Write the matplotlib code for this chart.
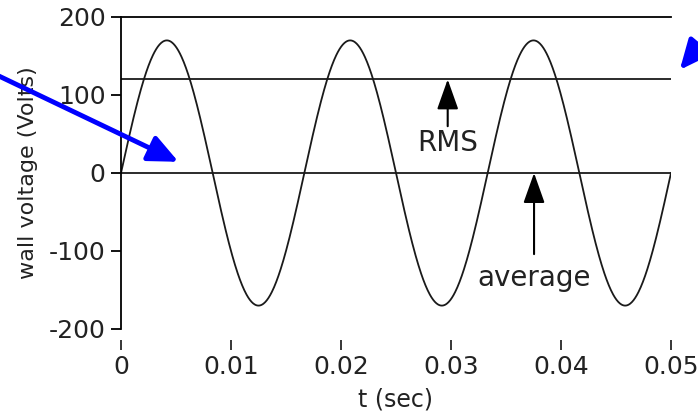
import numpy as np
import matplotlib
matplotlib.use('Agg')
import matplotlib.pyplot as plt

# values
peak_volts = 170          # peak of the wall voltage
freq_hz = 60              # 3 cycles in 0.05 s
t_end = 0.05
rms_volts = 120
avg_volts = 0
top_volts = 200

x_ticks = [0, 0.01, 0.02, 0.03, 0.04, 0.05]
x_labels = ['0', '0.01', '0.02', '0.03', '0.04', '0.05']
y_ticks = [200, 100, 0, -100, -200]
y_labels = ['200', '100', '0', '-100', '-200']

t = np.linspace(0, t_end, 1000)
v = peak_volts * np.sin(2 * np.pi * freq_hz * t)

plt.rcParams['font.family'] = ['DejaVu Sans']
fig = plt.figure(figsize=(6.98, 4.16), dpi=100)
ax = fig.add_axes([121/698, 1 - 329/416, 550/698, 312/416])

ink = '#1a1a1a'
ax.plot(t, v, color=ink, lw=1.3)
ax.plot([0, t_end], [rms_volts, rms_volts], color=ink, lw=1.3)
ax.plot([0, t_end], [avg_volts, avg_volts], color=ink, lw=1.3)

ax.set_xlim(0, t_end)
ax.set_ylim(-200, top_volts)

ax.spines['right'].set_visible(False)
ax.spines['top'].set_linewidth(1.3)
ax.spines['left'].set_linewidth(1.3)
ax.spines['bottom'].set_position(('outward', 8))
ax.spines['bottom'].set_visible(False)

ax.set_xticks(x_ticks)
ax.set_xticklabels(x_labels, fontsize=18, color='#222222')
ax.set_yticks(y_ticks)
ax.set_yticklabels(y_labels, fontsize=18, color='#222222')
ax.tick_params(axis='x', direction='out', length=7, width=1.1, pad=4)
ax.tick_params(axis='y', direction='out', length=7, width=1.3, pad=4)
ax.set_xlabel('t (sec)', fontsize=17, color='#222222', labelpad=6)
ax.set_ylabel('wall voltage (Volts)', fontsize=16, color='#222222', labelpad=8)

# black annotation arrows
black_head = '-|>,head_length=0.62,head_width=0.22'
ax.annotate('', xy=(0.0297, rms_volts), xytext=(0.0297, 60),
            arrowprops=dict(arrowstyle=black_head, color='black', lw=1.5,
                            mutation_scale=30, shrinkA=0, shrinkB=0))
ax.text(0.0297, 38, 'RMS', ha='center', va='center', fontsize=20, color='#222222')
ax.annotate('', xy=(0.03755, avg_volts), xytext=(0.03755, -104),
            arrowprops=dict(arrowstyle=black_head, color='black', lw=1.5,
                            mutation_scale=30, shrinkA=0, shrinkB=0))
ax.text(0.03755, -134, 'average', ha='center', va='center', fontsize=20, color='#222222')

# blue slide arrows coming in from outside the chart
blue_head = '-|>,head_length=0.6,head_width=0.27'
fig.patches.append(matplotlib.patches.FancyArrowPatch(
    (-20/698, 1 - 67/416), (181/698, 1 - 163/416), transform=fig.transFigure,
    arrowstyle=blue_head, color='#0000ff', lw=3.5, mutation_scale=30))
fig.patches.append(matplotlib.patches.FancyArrowPatch(
    (718/698, 1 - 24/416), (678/698, 1 - 72/416), transform=fig.transFigure,
    arrowstyle=blue_head, color='#0000ff', lw=3.5, mutation_scale=30))

fig.savefig('out.png', dpi=100)
